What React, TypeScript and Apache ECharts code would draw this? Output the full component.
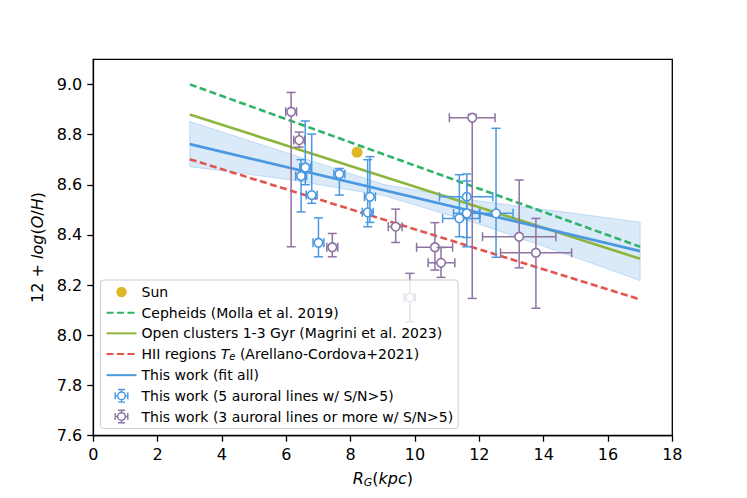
import React, { useEffect, useRef } from 'react';
import * as echarts from 'echarts';

const FONT = 'DejaVu Sans';

// colours
const C_SUN = '#dfb72b';
const C_CEPH = '#2fb36b';
const C_OC = '#8db53e';
const C_HII = '#e4544e';
const C_FIT = '#4a98e0';
const C_BLUE = '#4a98e0';
const C_PURPLE = '#8e73a0';

// series names
const N_SUN = 'Sun';
const N_CEPH = 'Cepheids (Molla et al. 2019)';
const N_OC = 'Open clusters 1-3 Gyr (Magrini et al. 2023)';
const N_HII = 'HII regions Te (Arellano-Cordova+2021)';
const N_FIT = 'This work (fit all)';
const N_BLUE = 'This work (5 auroral lines w/ S/N>5)';
const N_PURPLE = 'This work (3 auroral lines or more w/ S/N>5)';

// axis ticks
const xTicks = [0, 2, 4, 6, 8, 10, 12, 14, 16, 18];
const yTicks = [7.6, 7.8, 8.0, 8.2, 8.4, 8.6, 8.8, 9.0];

// reference gradients
const sun = [[8.2, 8.73]];
const cepheids = [[3, 9.0], [17, 8.353]];
const openClusters = [[3, 8.88], [17, 8.305]];
const hiiRegions = [[3, 8.702], [17, 8.143]];
const fitAll = [[3, 8.762], [17, 8.336]];

// confidence band of the fit
const bandX = [3, 6, 9, 12, 15, 17];
const bandLow = [8.672, 8.622, 8.558, 8.443, 8.31, 8.218];
const bandHigh = [8.852, 8.728, 8.602, 8.535, 8.485, 8.451];

// 5 auroral lines
const blueX = [6.46, 6.59, 6.79, 7.0, 7.65, 8.53, 8.6, 11.38, 11.61, 11.61, 12.52];
const blueY = [8.635, 8.669, 8.559, 8.369, 8.643, 8.49, 8.552, 8.466, 8.552, 8.486, 8.486];
const blueXLo = [6.29, 6.42, 6.62, 6.83, 7.48, 8.36, 8.43, 10.86, 10.76, 11.2, 12.02];
const blueXHi = [6.63, 6.76, 6.96, 7.17, 7.82, 8.7, 8.77, 12.02, 12.42, 12.0, 13.05];
const blueYLo = [8.492, 8.6, 8.526, 8.313, 8.559, 8.433, 8.45, 8.393, 8.39, 8.353, 8.311];
const blueYHi = [8.7, 8.854, 8.802, 8.468, 8.665, 8.7, 8.712, 8.64, 8.643, 8.615, 8.825];

// 3 auroral lines or more
const purpleX = [6.15, 6.4, 7.43, 9.4, 9.84, 10.62, 10.81, 11.78, 13.24, 13.76];
const purpleY = [8.891, 8.778, 8.351, 8.433, 8.151, 8.351, 8.289, 8.867, 8.393, 8.329];
const purpleXLo = [5.98, 6.23, 7.26, 9.17, 9.67, 10.05, 10.41, 11.07, 12.1, 12.66];
const purpleXHi = [6.32, 6.57, 7.6, 9.6, 10.01, 11.17, 11.24, 12.49, 14.38, 14.87];
const purpleYLo = [8.353, 8.75, 8.313, 8.37, 8.054, 8.26, 8.231, 8.147, 8.269, 8.108];
const purpleYHi = [8.968, 8.81, 8.406, 8.503, 8.247, 8.449, 8.35, 8.88, 8.619, 8.466];

const errRows = (x: number[], y: number[], xl: number[], xh: number[], yl: number[], yh: number[]) =>
  x.map((v, i) => [v, y[i], xl[i], xh[i], yl[i], yh[i]]);

const errRender = (color: string) => (params: any, api: any) => {
  const x = api.value(0);
  const y = api.value(1);
  const c = api.coord([x, y]);
  const l = api.coord([api.value(2), y]);
  const r = api.coord([api.value(3), y]);
  const b = api.coord([x, api.value(4)]);
  const t = api.coord([x, api.value(5)]);
  const cap = 4.5;
  const st = { stroke: color, lineWidth: 1.5 };
  const ln = (x1: number, y1: number, x2: number, y2: number) => ({
    type: 'line', shape: { x1, y1, x2, y2 }, style: st,
  });
  return {
    type: 'group',
    children: [
      ln(l[0], c[1], r[0], c[1]),
      ln(l[0], c[1] - cap, l[0], c[1] + cap),
      ln(r[0], c[1] - cap, r[0], c[1] + cap),
      ln(c[0], b[1], c[0], t[1]),
      ln(c[0] - cap, b[1], c[0] + cap, b[1]),
      ln(c[0] - cap, t[1], c[0] + cap, t[1]),
      { type: 'circle', shape: { cx: c[0], cy: c[1], r: 4.3 }, style: { fill: '#fff', stroke: color, lineWidth: 1.6 } },
    ],
  };
};

const sunIcon = 'path://M0,0M14,14M1.75,7A5.25,5.25 0 1 1 12.25,7A5.25,5.25 0 1 1 1.75,7Z';
const errIcon =
  'path://M11.6,7A4.6,4.6 0 1 1 2.4,7A4.6,4.6 0 1 1 11.6,7Z' +
  'M10.1,7A3.1,3.1 0 1 0 3.9,7A3.1,3.1 0 1 0 10.1,7Z' +
  'M3.5,0H10.5V1.4H3.5Z M6.3,1.4H7.7V2.5H6.3Z' +
  'M3.5,12.6H10.5V14H3.5Z M6.3,11.5H7.7V12.6H6.3Z' +
  'M0,3.5H1.4V10.5H0Z M1.4,6.3H2.5V7.7H1.4Z' +
  'M12.6,3.5H14V10.5H12.6Z M11.5,6.3H12.6V7.7H11.5Z';

const App: React.FC = () => {
  const chartRef = useRef<HTMLDivElement>(null);

  useEffect(() => {
    if (!chartRef.current) return;
    const chart = echarts.init(chartRef.current, null, { renderer: 'svg' });

    const axisLine = { show: true, lineStyle: { color: '#000', width: 1.3 } };
    const tickStyle = { color: '#000', width: 1.3 };
    const labelStyle = { fontFamily: FONT, fontSize: 16, color: '#000' };

    const lineSeries = (name: string, data: number[][], color: string, dashed: boolean, width: number) => ({
      name,
      type: 'line',
      data,
      symbol: 'none',
      z: 2,
      lineStyle: { color, width, type: dashed ? [7, 3.5] : 'solid' },
      itemStyle: { color },
    });

    const option: any = {
      animation: false,
      grid: {
        left: 93.3, right: 74.7, top: 59.3, bottom: 62.3,
        show: true, borderColor: '#000', borderWidth: 1.3,
      },
      xAxis: {
        type: 'value', min: 0, max: 18, interval: 2,
        axisLine,
        axisTick: { show: true, length: 6, lineStyle: tickStyle, customValues: xTicks },
        axisLabel: { ...labelStyle, margin: 11, customValues: xTicks },
        splitLine: { show: false },
        name: '{i|R}{s|G}{n|(}{i|kpc}{n|)}',
        nameLocation: 'middle',
        nameGap: 34,
        nameTextStyle: {
          ...labelStyle,
          rich: {
            i: { fontFamily: FONT, fontSize: 16, fontStyle: 'italic', color: '#000' },
            n: { fontFamily: FONT, fontSize: 16, color: '#000' },
            s: { fontFamily: FONT, fontSize: 11, fontStyle: 'italic', color: '#000', padding: [7, 0, 0, 0] },
          },
        },
      },
      yAxis: {
        type: 'value', min: 7.6, max: 9.1, interval: 0.2,
        axisLine,
        axisTick: { show: true, length: 6, lineStyle: tickStyle, customValues: yTicks },
        axisLabel: {
          ...labelStyle, margin: 11, customValues: yTicks,
          formatter: (v: number) => v.toFixed(1),
        },
        splitLine: { show: false },
        name: '{n|12 + }{i|log}{n|(}{i|O}{n|/}{i|H}{n|)}',
        nameLocation: 'middle',
        nameRotate: 90,
        nameGap: 48,
        nameTextStyle: {
          ...labelStyle,
          rich: {
            i: { fontFamily: FONT, fontSize: 16, fontStyle: 'italic', color: '#000' },
            n: { fontFamily: FONT, fontSize: 16, color: '#000' },
          },
        },
      },
      legend: {
        orient: 'vertical',
        left: 100.5,
        top: 280,
        z: 10,
        padding: [5, 5, 5, 5],
        itemWidth: 30,
        itemHeight: 14,
        itemGap: 6.67,
        itemTextGap: 9,
        backgroundColor: 'rgba(255,255,255,0.8)',
        borderColor: '#cccccc',
        borderWidth: 1,
        borderRadius: 3,
        selectedMode: false,
        textStyle: {
          fontFamily: FONT, fontSize: 14, color: '#000', lineHeight: 14,
          rich: {
            it: { fontFamily: FONT, fontSize: 14, fontStyle: 'italic', color: '#000' },
            sub: { fontFamily: FONT, fontSize: 10, fontStyle: 'italic', color: '#000', padding: [5, 0, 0, 0] },
          },
        },
        formatter: (name: string) =>
          name === N_HII ? 'HII regions {it|T}{sub|e} (Arellano-Cordova+2021)' : name,
        data: [
          { name: N_SUN, icon: sunIcon, itemStyle: { color: C_SUN } },
          { name: N_CEPH, itemStyle: { opacity: 0 } },
          { name: N_OC, itemStyle: { opacity: 0 } },
          { name: N_HII, itemStyle: { opacity: 0 } },
          { name: N_FIT, itemStyle: { opacity: 0 } },
          { name: N_BLUE, icon: errIcon, itemStyle: { color: C_BLUE, borderWidth: 0 } },
          { name: N_PURPLE, icon: errIcon, itemStyle: { color: C_PURPLE, borderWidth: 0 } },
        ],
      },
      series: [
        {
          name: 'band',
          type: 'custom',
          z: 1,
          data: bandX.map((x, i) => [x, bandLow[i], bandHigh[i]]),
          encode: { x: 0, y: [1, 2] },
          renderItem: (params: any, api: any) => {
            if (params.dataIndex !== 0) return null;
            const top = bandX.map((x, i) => api.coord([x, bandHigh[i]]));
            const bot = bandX.map((x, i) => api.coord([x, bandLow[i]])).reverse();
            return {
              type: 'polygon',
              shape: { points: [...top, ...bot] },
              style: { fill: 'rgba(74,152,224,0.2)', stroke: 'rgba(74,152,224,0.28)', lineWidth: 1 },
            };
          },
        },
        lineSeries(N_CEPH, cepheids, C_CEPH, true, 2.6),
        lineSeries(N_OC, openClusters, C_OC, false, 2.6),
        lineSeries(N_HII, hiiRegions, C_HII, true, 2.6),
        lineSeries(N_FIT, fitAll, C_FIT, false, 2.8),
        {
          name: N_BLUE,
          type: 'custom',
          z: 3,
          itemStyle: { color: C_BLUE },
          data: errRows(blueX, blueY, blueXLo, blueXHi, blueYLo, blueYHi),
          encode: { x: 0, y: 1 },
          renderItem: errRender(C_BLUE),
        },
        {
          name: N_PURPLE,
          type: 'custom',
          z: 3,
          itemStyle: { color: C_PURPLE },
          data: errRows(purpleX, purpleY, purpleXLo, purpleXHi, purpleYLo, purpleYHi),
          encode: { x: 0, y: 1 },
          renderItem: errRender(C_PURPLE),
        },
        {
          name: N_SUN,
          type: 'scatter',
          z: 3,
          data: sun,
          symbolSize: 11,
          itemStyle: { color: C_SUN, opacity: 1 },
        },
      ],
    };

    chart.setOption(option);
    return () => {
      chart.dispose();
    };
  }, []);

  return (
    <div
      ref={chartRef}
      style={{ position: 'absolute', left: 0, top: 0, width: 747, height: 498 }}
    />
  );
};

export default App;
